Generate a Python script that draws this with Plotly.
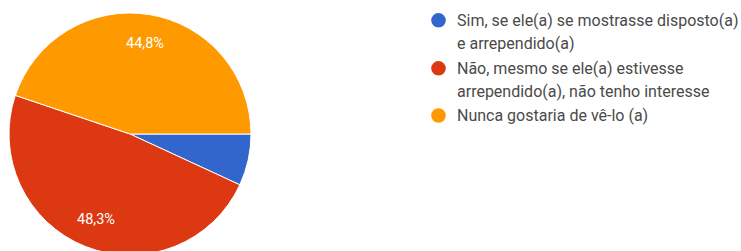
import math
import plotly.graph_objects as go

categories = [
    "Sim, se ele(a) se mostrasse disposto(a)<br>e arrependido(a)",
    "Não, mesmo se ele(a) estivesse<br>arrependido(a), não tenho interesse",
    "Nunca gostaria de vê-lo (a)",
]
counts = [2, 14, 13]
colors = ["#3366cc", "#dc3912", "#ff9900"]
show_label = [False, True, True]

W, H = 741, 255
fig = go.Figure()

cx, cy, R = 130, 134, 121
start_deg = 90  # degrees clockwise from 12 o'clock
fig.add_trace(go.Pie(
    labels=categories,
    values=counts,
    sort=False,
    direction="clockwise",
    rotation=start_deg,
    marker=dict(colors=colors, line=dict(color="white", width=1)),
    textinfo="none",
    showlegend=False,
    hoverinfo="label+percent",
    domain=dict(x=[(cx - R) / W, (cx + R) / W], y=[(H - cy - R) / H, (H - cy + R) / H]),
))

# slice percentage labels placed along each slice's middle angle
total = sum(counts)
acc = 0
for v, s in zip(counts, show_label):
    mid = start_deg + 360 * (acc + v / 2) / total
    acc += v
    if not s:
        continue
    rr = 0.76 * R
    px = cx + rr * math.sin(math.radians(mid))
    py = cy - rr * math.cos(math.radians(mid))
    pct = f"{100 * v / total:.1f}%".replace(".", ",")
    fig.add_annotation(x=px / W, y=(H - py) / H, xref="paper", yref="paper",
                       text=pct, showarrow=False, xanchor="center", yanchor="middle",
                       font=dict(size=14.5, color="white", family="Roboto, Arial, sans-serif"))

# legend drawn as circles + text lines
leg_x_circle = 438.5
leg_x_text = 455
item_y = [20.3, 68.3, 115.5]
line_gap = 22.8
cr = 7.3
for i, (cat, col) in enumerate(zip(categories, colors)):
    fig.add_shape(type="circle", xref="paper", yref="paper",
                  x0=(leg_x_circle - cr) / W, x1=(leg_x_circle + cr) / W,
                  y0=(H - item_y[i] - cr) / H, y1=(H - item_y[i] + cr) / H,
                  fillcolor=col, line=dict(width=0))
    for j, line in enumerate(cat.split("<br>")):
        fig.add_annotation(x=leg_x_text / W, y=(H - (item_y[i] + j * line_gap)) / H,
                           xref="paper", yref="paper", xanchor="left", yanchor="middle",
                           text=line, showarrow=False,
                           font=dict(size=16, color="#4a4a4a", family="Roboto, Arial, sans-serif"))

fig.update_layout(
    width=W, height=H,
    margin=dict(l=0, r=0, t=0, b=0),
    paper_bgcolor="white", plot_bgcolor="white",
    showlegend=False,
)
fig.write_html("out.html",
               config={"displayModeBar": False},
               post_script="document.body.style.margin='0';document.body.style.overflow='hidden';")
